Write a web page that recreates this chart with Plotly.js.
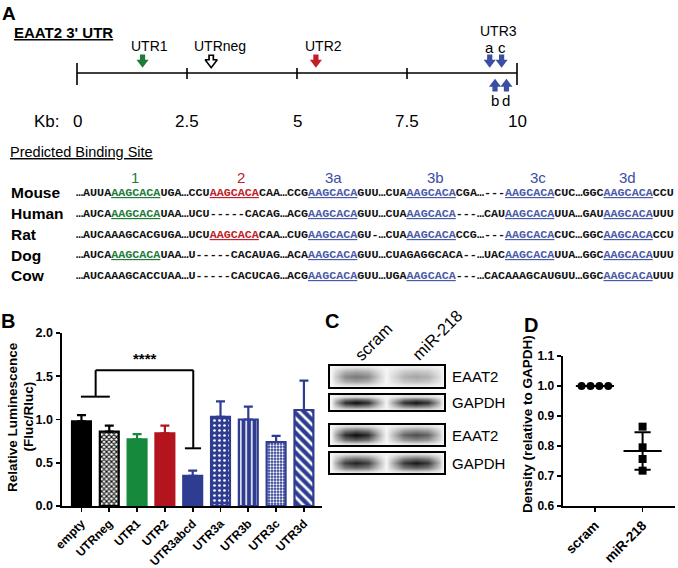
<!DOCTYPE html>
<html><head><meta charset="utf-8">
<script src="https://cdn.plot.ly/plotly-3.0.1.min.js"></script>
<style>html,body{margin:0;padding:0;background:#fff}#chart{width:678px;height:568px}</style>
</head><body><div id="chart"></div>
<script>
// ---------------- DATA ----------------
// Panel A: schematic of EAAT2 3' UTR (kb)
const kbTicks = [0, 2.5, 5, 7.5, 10];
const kbTickText = ['0', '2.5', '5', '7.5', '10'];
const siteLabels = ['UTR1', 'UTRneg', 'UTR2'];
const siteKb = [1.49, 3.05, 5.43];
const utr3Letters = ['a', 'b', 'c', 'd'];
const utr3Kb = [9.38, 9.5, 9.65, 9.76];
const utr3Dir = ['down', 'up', 'down', 'up'];

// Predicted binding site alignment ('|' marks the predicted seed site)
const species = ['Mouse', 'Human', 'Rat', 'Dog', 'Cow'];
const siteHeaders = ['1', '2', '3a', '3b', '3c', '3d'];
const seqMouse = ['AUUA|AAGCACA|UGA', 'CCU|AAGCACA|CAA', 'CCG|AAGCACA|GUU', 'CUA|AAGCACA|CGA', '---|AAGCACA|CUC', 'GGC|AAGCACA|CCU'];
const seqHuman = ['AUCA|AAGCACA|UAA', 'UCU-----CACAG', 'ACG|AAGCACA|GUU', 'CUA|AAGCACA|---', 'CAU|AAGCACA|UUA', 'GAU|AAGCACA|UUU'];
const seqRat   = ['AUCAAAGCACGUGA', 'UCU|AAGCACA|CAA', 'CUG|AAGCACA|GU-', 'CUA|AAGCACA|CCG', '---|AAGCACA|CUC', 'GGC|AAGCACA|CCU'];
const seqDog   = ['AUCA|AAGCACA|UAA', 'U-----CACAUAG', 'ACA|AAGCACA|GUU', 'CUAGAGGCACA--', 'UAC|AAGCACA|UUA', 'GGC|AAGCACA|UUU'];
const seqCow   = ['AUCAAAGCACCUAA', 'U-----CACUCAG', 'ACG|AAGCACA|GUU', 'UGA|AAGCACA|---', 'CACAAAGCAUGUU', 'GGC|AAGCACA|UUU'];

// Panel B: luciferase assay
const bCategories = ['empty', 'UTRneg', 'UTR1', 'UTR2', 'UTR3abcd', 'UTR3a', 'UTR3b', 'UTR3c', 'UTR3d'];
const bMeans  = [0.98, 0.86, 0.77, 0.84, 0.35, 1.03, 1.00, 0.74, 1.11];
const bErrors = [0.07, 0.07, 0.06, 0.09, 0.06, 0.18, 0.15, 0.07, 0.34];
const bSigLabel = '****';

// Panel C: western blot
const blotLanes = ['scram', 'miR-218'];
const blotRows = ['EAAT2', 'GAPDH', 'EAAT2', 'GAPDH'];
const bandIntensity = [[0.52, 0.33], [0.97, 0.95], [0.97, 0.7], [0.88, 0.92]];

// Panel D: densitometry
const dCategories = ['scram', 'miR-218'];
const scramDensity = [1.0, 1.0, 1.0, 1.0];
const mirDensity = [0.864, 0.795, 0.756, 0.717];

// ---------------- STYLE / LAYOUT HELPERS ----------------
const W = 678, H = 568;
const px = x => x / W, py = y => 1 - y / H;
const SANS = 'Liberation Sans, Arial, sans-serif';
const MONO = 'Liberation Mono, Courier New, monospace';
const GREEN = '#1e7b3a', RED = '#c0202a', BLUE = '#3a4ea3', SEQBLUE = '#4a5aa8';
const BARBLUE = '#2e3d92';
const kbX = kb => 77 + kb * 44;   // pixel position of a kb value (for labels)

const traces = [];
const shapes = [];
const annotations = [];
function ann(o) { return Object.assign({showarrow: false, xref: 'paper', yref: 'paper', xanchor: 'center', yanchor: 'middle'}, o); }
function lineShape(xref, yref, x0, y0, x1, y1, w, c) {
  shapes.push({type: 'line', xref, yref, x0, y0, x1, y1, line: {color: c || '#000', width: w || 2}});
}

// ---------------- PANEL A ----------------
annotations.push(ann({x: px(9), y: py(13), text: '<b>A</b>', font: {family: SANS, size: 19}}));
annotations.push(ann({x: px(12), y: py(33), xanchor: 'left', text: "<b><u>EAAT2 3' UTR</u></b>", font: {family: SANS, size: 15}}));

lineShape('x', 'y', 0, 73, 10, 73, 1.6);
kbTicks.forEach((k, i) => {
  const end = (i === 0 || i === kbTicks.length - 1);
  lineShape('x', 'y', k, end ? 63 : 68, k, end ? 85 : 79, 1.6);
  annotations.push(ann({x: k, xref: 'x', y: py(121), text: kbTickText[i], font: {family: SANS, size: 17}}));
});
annotations.push(ann({x: px(62), y: py(121), xanchor: 'right', text: 'Kb:', font: {family: SANS, size: 17}}));

function arrow(kb, dir, color, hollow) {
  const down = dir === 'down';
  const shaft = down ? [54.5, 61] : [86, 91.5];
  const headY = down ? 62.4 : 84.1;
  const sym = down ? 'triangle-down' : 'triangle-up';
  const base = {type: 'scatter', xaxis: 'x', yaxis: 'y', hoverinfo: 'skip', cliponaxis: false};
  if (hollow) {
    traces.push(Object.assign({}, base, {mode: 'lines', x: [kb, kb], y: shaft, line: {color: '#000', width: 6}}));
    traces.push(Object.assign({}, base, {mode: 'markers', x: [kb], y: [headY], marker: {symbol: sym, size: 10.5, color: '#fff', line: {color: '#000', width: 1.6}}}));
    traces.push(Object.assign({}, base, {mode: 'lines', x: [kb, kb], y: [56, 62], line: {color: '#fff', width: 2.6}}));
  } else {
    traces.push(Object.assign({}, base, {mode: 'lines', x: [kb, kb], y: shaft, line: {color: color, width: 5.2}}));
    traces.push(Object.assign({}, base, {mode: 'markers', x: [kb], y: [headY], marker: {symbol: sym, size: 10.5, color: color, line: {width: 0}}}));
  }
}
const siteColor = [GREEN, '#000', RED];
const siteLabelDx = [7, 9, 8];
siteKb.forEach((k, i) => {
  arrow(k, 'down', siteColor[i], i === 1);
  annotations.push(ann({x: px(kbX(k) + siteLabelDx[i]), y: py(46), text: siteLabels[i], font: {family: SANS, size: 14}}));
});
utr3Kb.forEach((k, i) => {
  arrow(k, utr3Dir[i], BLUE, false);
  annotations.push(ann({x: px(kbX(k)), y: py(utr3Dir[i] === 'down' ? 47 : 100), text: utr3Letters[i], font: {family: SANS, size: 15}}));
});
annotations.push(ann({x: px(498), y: py(31), text: 'UTR3', font: {family: SANS, size: 14}}));

// ---------------- ALIGNMENT ----------------
annotations.push(ann({x: px(8), y: py(152), xanchor: 'left', text: '<u>Predicted Binding Site</u>', font: {family: SANS, size: 14.5}}));
const headerX = [134.5, 241, 333, 435, 538, 627];
const blockColor = [GREEN, RED, SEQBLUE, SEQBLUE, SEQBLUE, SEQBLUE];
siteHeaders.forEach((h, i) => {
  annotations.push(ann({x: px(headerX[i]), y: py(177.5), text: h, font: {family: SANS, size: 15, color: blockColor[i] === SEQBLUE ? BLUE : blockColor[i]}}));
});
const rows = [seqMouse, seqHuman, seqRat, seqDog, seqCow];
const rowY = [192.5, 213.5, 234.3, 255, 275.5];
rows.forEach((blocks, r) => {
  annotations.push(ann({x: px(9), y: py(rowY[r]), xanchor: 'left', text: '<b>' + species[r] + '</b>', font: {family: SANS, size: 15.5}}));
  let txt = '';
  blocks.forEach((b, k) => {
    const parts = b.split('|');
    txt += '\u2026';
    if (parts.length === 3) {
      txt += parts[0] + '<span style="color:' + blockColor[k] + '"><u>' + parts[1] + '</u></span>' + parts[2];
    } else {
      txt += parts[0];
    }
  });
  annotations.push(ann({x: px(73.5), y: py(rowY[r] + 0.5), xanchor: 'left', text: '<b>' + txt + '</b>', font: {family: MONO, size: 11.73, color: '#111'}}));
});

// ---------------- PANEL B ----------------
annotations.push(ann({x: px(8), y: py(321), text: '<b>B</b>', font: {family: SANS, size: 20}}));
const bFill   = ['#000', '#fff', '#17893c', '#b3141e', BARBLUE, BARBLUE, BARBLUE, BARBLUE, BARBLUE];
const bLine   = ['#000', '#000', '#17893c', '#b3141e', BARBLUE, BARBLUE, BARBLUE, BARBLUE, BARBLUE];
const bPat    = ['', 'x', '', '', '', '.', '|', '.', '\\'];
const bPatFg  = ['#000', '#000', '#000', '#000', '#fff', '#fff', '#fff', '#fff', '#fff'];
const bPatSz  = [8, 3.5, 8, 8, 8, 5, 5.5, 3, 7];
const bPatSol = [0.3, 0.5, 0.3, 0.3, 0.3, 0.22, 0.28, 0.45, 0.38];
bCategories.forEach((c, i) => {
  const m = {color: bFill[i], line: {color: bLine[i], width: 2.2}};
  if (bPat[i]) m.pattern = {shape: bPat[i], fgcolor: bPatFg[i], bgcolor: i === 1 ? '#fff' : bFill[i], size: bPatSz[i], solidity: bPatSol[i]};
  traces.push({
    type: 'bar', xaxis: 'x2', yaxis: 'y2', x: [c], y: [bMeans[i]], width: 0.68,
    marker: m, hoverinfo: 'skip',
    error_y: {type: 'data', symmetric: false, array: [bErrors[i]], arrayminus: [0], color: bLine[i], thickness: 2.2, width: 4.5}
  });
});
// significance bracket (category index / value coordinates)
lineShape('x2', 'y2', -0.02, 1.264, 1.02, 1.264, 2);
lineShape('x2', 'y2', 0.51, 1.264, 0.51, 1.57, 2);
lineShape('x2', 'y2', 0.51, 1.57, 4.02, 1.57, 2);
lineShape('x2', 'y2', 4.02, 1.57, 4.02, 0.667, 2);
lineShape('x2', 'y2', 3.72, 0.667, 4.3, 0.667, 2);
annotations.push(ann({x: 2.27, xref: 'x2', y: 1.71, yref: 'y2', text: '<b>' + bSigLabel + '</b>', font: {family: SANS, size: 15}}));
annotations.push(ann({x: px(12), y: py(417), text: '<b>Relative Luminescence</b>', textangle: -90, font: {family: SANS, size: 13.5}}));
annotations.push(ann({x: px(27.5), y: py(417), text: '<b>(Fluc/Rluc)</b>', textangle: -90, font: {family: SANS, size: 13.5}}));

// ---------------- PANEL C ----------------
annotations.push(ann({x: px(331.5), y: py(321), text: '<b>C</b>', font: {family: SANS, size: 20}}));
const boxY = [[365, 388], [394, 411], [424, 446], [452, 474]];
const boxX = [329, 445];
const laneColsX = [331, 335, 345, 356, 368, 379, 386, 392, 404, 416, 428, 439, 443];
const lane1W = [0, 0.3, 0.85, 1, 0.85, 0.3, 0, 0, 0, 0, 0, 0, 0];
const lane2W = [0, 0, 0, 0, 0, 0, 0, 0.3, 0.85, 1, 0.85, 0.3, 0];
const rowW = [0.1, 0.65, 1, 0.65, 0.1];
boxY.forEach((yy, b) => {
  const [t, btm] = yy, h = btm - t;
  const ys = [t + 2, t + h * 0.3, t + h * 0.5, t + h * 0.7, btm - 2];
  const z = rowW.map(rw => laneColsX.map((_, c) => 0.04 + rw * (bandIntensity[b][0] * lane1W[c] + bandIntensity[b][1] * lane2W[c])));
  traces.push({type: 'heatmap', xaxis: 'x4', yaxis: 'y4', x: laneColsX, y: ys, z: z, zmin: 0, zmax: 1, zsmooth: 'best',
    colorscale: [[0, '#ffffff'], [1, '#0d0d0d']], showscale: false, hoverinfo: 'skip'});
  shapes.push({type: 'rect', xref: 'x4', yref: 'y4', x0: boxX[0], x1: boxX[1], y0: t, y1: btm, line: {color: '#000', width: 2}, fillcolor: 'rgba(0,0,0,0)'});
  annotations.push(ann({x: px(450), y: py((t + btm) / 2), xanchor: 'left', text: blotRows[b], font: {family: SANS, size: 15}}));
});
const laneLabelPos = [[373, 342], [437, 335]];
blotLanes.forEach((l, i) => {
  annotations.push(ann({x: px(laneLabelPos[i][0]), y: py(laneLabelPos[i][1]), text: l, textangle: -45, font: {family: SANS, size: 16.5}}));
});

// ---------------- PANEL D ----------------
annotations.push(ann({x: px(531), y: py(325), text: '<b>D</b>', font: {family: SANS, size: 20}}));
const swarmOffsets = [-0.28, -0.093, 0.093, 0.28];
function meanSd(a) {
  const m = a.reduce((s, v) => s + v, 0) / a.length;
  const sd = Math.sqrt(a.reduce((s, v) => s + (v - m) * (v - m), 0) / (a.length - 1));
  return [m, sd];
}
[[scramDensity, 0, swarmOffsets, 'circle'], [mirDensity, 1, [0, 0, 0, 0], 'square']].forEach(([vals, xi, offs, sym]) => {
  const [m, sd] = meanSd(vals);
  const base = {type: 'scatter', mode: 'lines', xaxis: 'x3', yaxis: 'y3', hoverinfo: 'skip', cliponaxis: false, line: {color: '#000', width: 2}};
  traces.push(Object.assign({}, base, {x: [xi - 0.4, xi + 0.4], y: [m, m]}));
  if (sd > 0) {
    traces.push(Object.assign({}, base, {x: [xi, xi], y: [m - sd, m + sd]}));
    traces.push(Object.assign({}, base, {x: [xi - 0.17, xi + 0.17], y: [m + sd, m + sd]}));
    traces.push(Object.assign({}, base, {x: [xi - 0.17, xi + 0.17], y: [m - sd, m - sd]}));
  }
  traces.push({type: 'scatter', mode: 'markers', xaxis: 'x3', yaxis: 'y3', hoverinfo: 'skip', cliponaxis: false,
    x: vals.map((v, k) => xi + offs[k]), y: vals, marker: {symbol: sym, size: 8, color: '#000'}});
});
annotations.push(ann({x: px(527), y: py(424), text: '<b>Density (relative to GAPDH)</b>', textangle: -90, font: {family: SANS, size: 13.5}}));

// ---------------- AXES ----------------
const axBase = {showgrid: false, zeroline: false, fixedrange: true, showline: true, linecolor: '#000', linewidth: 2,
  ticks: 'outside', ticklen: 4.5, tickwidth: 1.8, tickcolor: '#000'};
const layout = {
  width: W, height: H, margin: {l: 0, r: 0, t: 0, b: 0, pad: 0},
  paper_bgcolor: '#fff', plot_bgcolor: 'rgba(0,0,0,0)', showlegend: false, barmode: 'overlay',
  font: {family: SANS, color: '#000'},
  xaxis: {domain: [px(33), px(561)], range: [-1, 11], visible: false, fixedrange: true},
  yaxis: {domain: [py(130), py(20)], range: [130, 20], visible: false, fixedrange: true},
  xaxis2: Object.assign({}, axBase, {domain: [px(62), px(322)], anchor: 'y2', type: 'category', range: [-0.7, 8.65],
    tickangle: -45, ticklen: 4, tickfont: {family: SANS, size: 12, weight: 'bold'}}),
  yaxis2: Object.assign({}, axBase, {domain: [py(506), py(333)], anchor: 'x2', range: [0, 2], dtick: 0.5, tick0: 0,
    tickformat: '.1f', tickfont: {family: SANS, size: 12.5, weight: 'bold'}}),
  xaxis3: Object.assign({}, axBase, {domain: [px(563), px(675)], anchor: 'y3', range: [-0.67, 1.68],
    tickvals: [0, 1], ticktext: dCategories, tickangle: -45, tickfont: {family: SANS, size: 13.5, weight: 'bold'}}),
  yaxis3: Object.assign({}, axBase, {domain: [py(505.7), py(356)], anchor: 'x3', range: [0.6, 1.1], dtick: 0.1, tick0: 0.6,
    tickformat: '.1f', tickfont: {family: SANS, size: 12, weight: 'bold'}}),
  xaxis4: {domain: [px(320), px(520)], range: [320, 520], visible: false, fixedrange: true, anchor: 'y4'},
  yaxis4: {domain: [py(480), py(355)], range: [480, 355], visible: false, fixedrange: true, anchor: 'x4'},
  shapes: shapes,
  annotations: annotations
};
Plotly.newPlot('chart', traces, layout, {staticPlot: true, displayModeBar: false});
</script>
</body></html>
